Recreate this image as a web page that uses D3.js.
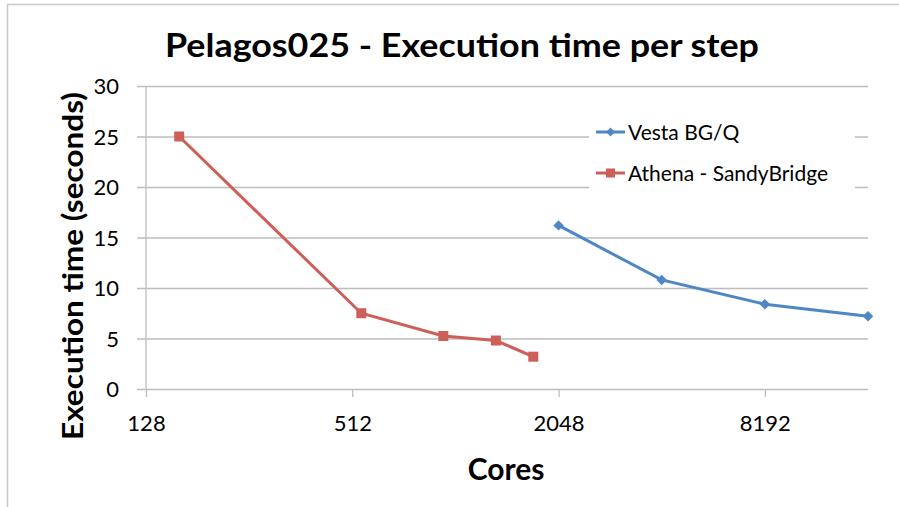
<!DOCTYPE html>
<html lang="en">
<head>
  <meta charset="UTF-8">
  <script src="https://d3js.org/d3.v7.min.js"></script>
  <title>Pelagos025 - Execution time per step</title>
  <style>
    body { margin: 0; background: #fff; }
    .tick text { font-family: 'Lato', sans-serif; font-size: 22px; fill: #000; }
    .title { font-family: 'Lato', sans-serif; font-weight: 700; fill: #000; }
    .legend { font-family: 'Lato', sans-serif; font-size: 21px; fill: #000; }
  </style>
</head>
<body>
<div id="chart"></div>
<script>
  // data
  let xTicks = [128, 512, 2048, 8192];
  let yTicks = [0, 5, 10, 15, 20, 25, 30];
  let vestaCores = [2048, 4096, 8192, 16384];
  let vestaTime = [16.2, 10.8, 8.4, 7.2];
  let athenaCores = [160, 544, 944, 1344, 1728];
  let athenaTime = [25, 7.5, 5.25, 4.8, 3.2];

  let width = 899, height = 507;
  let plotLeft = 146, plotRight = 868, plotTop = 86, plotBottom = 389;

  let svg = d3.select("#chart").append("svg")
      .attr("width", width).attr("height", height);

  // outer frame
  svg.append("rect")
      .attr("x", 7.5).attr("y", 4.5)
      .attr("width", width).attr("height", height)
      .attr("fill", "none").attr("stroke", "#c8c8c8").attr("stroke-width", 1.5);

  let x = d3.scaleLog().base(2).domain([128, 16384]).range([plotLeft, plotRight]);
  let y = d3.scaleLinear().domain([0, 30]).range([plotBottom, plotTop]);

  // y axis with gridlines
  let yAxis = svg.append("g")
      .attr("transform", "translate(" + plotLeft + ",0)")
      .call(d3.axisLeft(y).tickValues(yTicks).tickSize(-(plotRight - plotLeft)).tickPadding(27));
  yAxis.select(".domain").remove();
  yAxis.selectAll(".tick line")
      .attr("x1", -9).attr("stroke", "#bdbdbd").attr("stroke-width", 1.3);
  yAxis.selectAll(".tick text").attr("dy", "0.36em");

  // y axis line
  svg.append("line")
      .attr("x1", plotLeft).attr("x2", plotLeft).attr("y1", plotTop).attr("y2", plotBottom)
      .attr("stroke", "#bdbdbd").attr("stroke-width", 1.3);

  // x axis
  let xAxis = svg.append("g")
      .attr("transform", "translate(0," + plotBottom + ")")
      .call(d3.axisBottom(x).tickValues(xTicks).tickFormat(d3.format("d")).tickSize(8).tickPadding(18));
  xAxis.select(".domain").remove();
  xAxis.selectAll(".tick line").attr("stroke", "#bdbdbd").attr("stroke-width", 1.3);

  // legend background hides gridlines behind it
  svg.append("rect")
      .attr("x", 589).attr("y", 112).attr("width", 266).attr("height", 82)
      .attr("fill", "#fff");

  let line = d3.line().x(d => x(d[0])).y(d => y(d[1]));
  let vesta = vestaCores.map((c, i) => [c, vestaTime[i]]);
  let athena = athenaCores.map((c, i) => [c, athenaTime[i]]);

  let blue = "#4f86c5", red = "#cd5f58";

  svg.append("path").attr("d", line(vesta))
      .attr("fill", "none").attr("stroke", blue).attr("stroke-width", 3);
  svg.append("path").attr("d", line(athena))
      .attr("fill", "none").attr("stroke", red).attr("stroke-width", 3);

  svg.append("g").selectAll("path").data(vesta).join("path")
      .attr("transform", d => "translate(" + x(d[0]) + "," + y(d[1]) + ")")
      .attr("d", d3.symbol(d3.symbolDiamond2, 70))
      .attr("fill", blue);
  svg.append("g").selectAll("rect").data(athena).join("rect")
      .attr("x", d => x(d[0]) - 5).attr("y", d => y(d[1]) - 5)
      .attr("width", 10).attr("height", 10)
      .attr("fill", red);

  // legend
  let legend = [["Vesta BG/Q", blue, "diamond"], ["Athena - SandyBridge", red, "square"]];
  legend.forEach((l, i) => {
    let ly = 132 + i * 41;
    svg.append("line").attr("x1", 596).attr("x2", 625).attr("y1", ly).attr("y2", ly)
        .attr("stroke", l[1]).attr("stroke-width", 3);
    if (l[2] == "diamond") {
      svg.append("path").attr("transform", "translate(610.5," + ly + ")")
          .attr("d", d3.symbol(d3.symbolDiamond2, 50)).attr("fill", l[1]);
    } else {
      svg.append("rect").attr("x", 606).attr("y", ly - 4.5).attr("width", 9).attr("height", 9)
          .attr("fill", l[1]);
    }
    svg.append("text").attr("class", "legend")
        .attr("x", 628).attr("y", ly).attr("dy", "0.36em")
        .text(l[0]);
  });

  // titles
  svg.append("text").attr("class", "title")
      .attr("x", 462).attr("y", 57).attr("text-anchor", "middle")
      .attr("font-size", 33)
      .attr("textLength", 594).attr("lengthAdjust", "spacingAndGlyphs")
      .text("Pelagos025 - Execution time per step");
  svg.append("text").attr("class", "title")
      .attr("transform", "translate(83,266) rotate(-90)")
      .attr("text-anchor", "middle").attr("font-size", 28)
      .attr("textLength", 348).attr("lengthAdjust", "spacingAndGlyphs")
      .text("Execution time (seconds)");
  svg.append("text").attr("class", "title")
      .attr("x", 506).attr("y", 480).attr("text-anchor", "middle")
      .attr("font-size", 30)
      .text("Cores");
</script>
</body>
</html>
